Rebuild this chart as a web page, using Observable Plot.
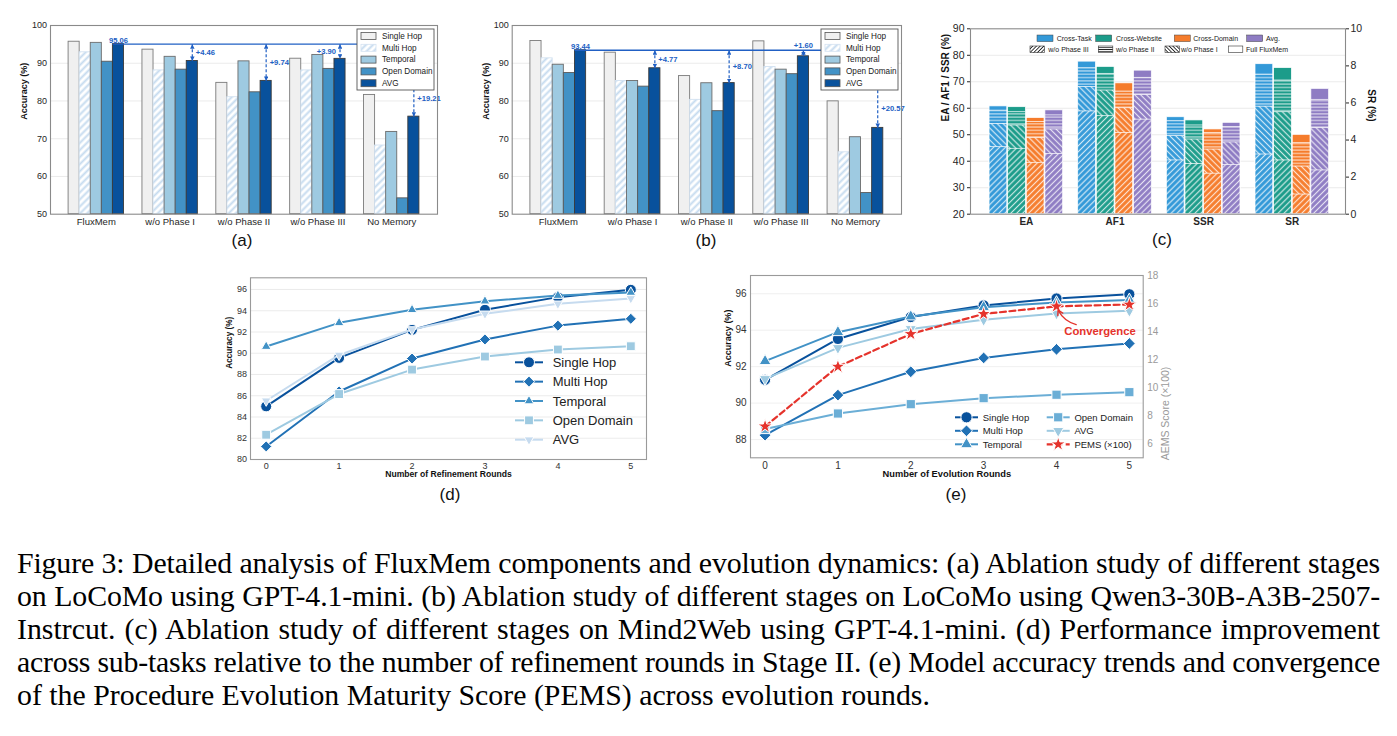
<!DOCTYPE html>
<html>
<head>
<meta charset="utf-8">
<script src="https://cdn.jsdelivr.net/npm/d3@7"></script>
<script src="https://cdn.jsdelivr.net/npm/@observablehq/plot@0.6"></script>
<style>
  html, body { margin: 0; padding: 0; background: #fff; }
  body { position: relative; width: 1397px; height: 736px; overflow: hidden; font-family: "Liberation Sans", Arial, sans-serif; }
  .panel { position: absolute; }
  .panel svg { display: block; overflow: visible; }
  .tag { position: absolute; width: 60px; margin-left: -30px; text-align: center; font-size: 17px; line-height: 20px; color: #111; }
  #caption { position: absolute; left: 17px; top: 545.5px; width: 1363px; font-family: "Liberation Serif", "Times New Roman", serif; font-size: 27px; line-height: 33px; color: #000; }
  #caption .ln { text-align: justify; text-align-last: justify; height: 33px; white-space: nowrap; }
  #caption .ln.last { text-align-last: left; }
</style>
</head>
<body>
<svg id="shared-defs" width="0" height="0" style="position:absolute;left:0;top:0"><defs></defs></svg>
<div class="panel" id="panel-a" style="left:0px;top:0px"></div>
<div class="panel" id="panel-b" style="left:460px;top:0px"></div>
<div class="panel" id="panel-c" style="left:930px;top:0px"></div>
<div class="panel" id="panel-d" style="left:210px;top:260px"></div>
<div class="panel" id="panel-e" style="left:700px;top:260px"></div>
<div class="tag" style="left:242px;top:230.5px">(a)</div>
<div class="tag" style="left:706px;top:230.5px">(b)</div>
<div class="tag" style="left:1162px;top:230px">(c)</div>
<div class="tag" style="left:450px;top:485px">(d)</div>
<div class="tag" style="left:956px;top:485px">(e)</div>
<div id="caption">
  <div class="ln">Figure 3: Detailed analysis of FluxMem components and evolution dynamics: (a) Ablation study of different stages</div>
  <div class="ln">on LoCoMo using GPT-4.1-mini. (b) Ablation study of different stages on LoCoMo using Qwen3-30B-A3B-2507-</div>
  <div class="ln">Instrcut. (c) Ablation study of different stages on Mind2Web using GPT-4.1-mini. (d) Performance improvement</div>
  <div class="ln">across sub-tasks relative to the number of refinement rounds in Stage II. (e) Model accuracy trends and convergence</div>
  <div class="ln last">of the Procedure Evolution Maturity Score (PEMS) across evolution rounds.</div>
</div>
<script>
// ---------------- data ----------------
// LoCoMo ablation (a: GPT-4.1-mini, b: Qwen3-30B-A3B-2507-Instruct)
const ablationGroups = ["FluxMem", "w/o Phase I", "w/o Phase II", "w/o Phase III", "No Memory"];
const locomoSeries = ["Single Hop", "Multi Hop", "Temporal", "Open Domain", "AVG"];

const gptSingleHop  = [95.7, 93.6, 84.8, 91.2, 81.6];
const gptMultiHop   = [92.9, 88.1, 81.0, 88.1, 68.2];
const gptTemporal   = [95.4, 91.7, 90.5, 92.2, 71.8];
const gptOpenDomain = [90.4, 88.3, 82.3, 88.5, 54.2];
const gptAvg        = [95.06, 90.60, 85.32, 91.16, 75.85];

const qwenSingleHop  = [95.9, 92.8, 86.6, 95.8, 79.9];
const qwenMultiHop   = [91.3, 85.3, 80.3, 89.0, 66.4];
const qwenTemporal   = [89.6, 85.3, 84.7, 88.3, 70.4];
const qwenOpenDomain = [87.4, 83.8, 77.3, 87.1, 55.6];
const qwenAvg        = [93.44, 88.67, 84.74, 91.84, 72.87];

// Mind2Web ablation (c): rows = EA, AF1, SSR, SR; columns = splits
const webMetrics = ["EA", "AF1", "SSR", "SR"];
const webSplits = ["Cross-Task", "Cross-Website", "Cross-Domain", "Avg."];
const webFull    = [[60.7, 60.4, 56.3, 59.2], [77.6, 75.6, 69.4, 74.2], [56.6, 55.4, 52.0, 54.5], [8.09, 7.88, 4.28, 6.76]];
const webNoPhase2 = [[59.1, 58.5, 54.8, 57.3], [75.1, 73.0, 66.3, 71.5], [55.1, 53.5, 50.7, 52.9], [7.53, 7.21, 3.83, 6.17]];
const webNoPhase1 = [[54.1, 53.5, 48.7, 52.0], [68.0, 66.7, 60.0, 65.0], [49.5, 48.2, 44.4, 47.1], [5.80, 5.50, 2.57, 4.64]];
const webNoPhase3 = [[45.3, 44.7, 39.4, 42.7], [58.8, 57.0, 50.7, 55.7], [40.3, 39.0, 35.3, 38.6], [3.22, 2.90, 1.06, 2.36]];

// Refinement rounds (d)
const refineRounds = [0, 1, 2, 3, 4, 5];
const refineSingleHop  = [85.0, 89.56, 92.2, 94.09, 95.28, 95.97];
const refineMultiHop   = [81.23, 86.4, 89.5, 91.3, 92.6, 93.24];
const refineTemporal   = [90.63, 92.86, 94.09, 94.9, 95.43, 95.72];
const refineOpenDomain = [82.33, 86.16, 88.46, 89.69, 90.35, 90.66];
const refineAvg        = [85.53, 89.84, 92.23, 93.71, 94.65, 95.16];

// Evolution rounds (e)
const evoRounds = [0, 1, 2, 3, 4, 5];
const evoSingleHop  = [91.28, 93.52, 94.72, 95.36, 95.74, 95.97];
const evoMultiHop   = [88.24, 90.44, 91.72, 92.48, 92.95, 93.27];
const evoTemporal   = [92.3, 93.89, 94.75, 95.26, 95.52, 95.66];
const evoOpenDomain = [88.58, 89.43, 89.94, 90.27, 90.46, 90.6];
const evoAvg        = [91.33, 93.03, 94.07, 94.57, 94.92, 95.07];
const evoPems       = [7.24, 11.5, 13.83, 15.26, 15.8, 15.93]; // PEMS x100

// ---------------- shared styling ----------------
const FONT = '"Liberation Sans", Arial, Helvetica, sans-serif';
const defs = d3.select("#shared-defs defs");
const intFormat = d3.format("d");

function stripePattern(id, {bg, line, width, spacing, angle}) {
  const p = defs.append("pattern").attr("id", id)
    .attr("patternUnits", "userSpaceOnUse")
    .attr("width", spacing).attr("height", spacing)
    .attr("patternTransform", `rotate(${angle})`);
  p.append("rect").attr("width", spacing).attr("height", spacing).attr("fill", bg);
  p.append("line").attr("x1", spacing / 2).attr("x2", spacing / 2)
    .attr("y1", -1).attr("y2", spacing + 1)
    .attr("stroke", line).attr("stroke-width", width);
}

// arrowhead for the gap annotations
const gapBlue = "#2160c4";
defs.append("marker").attr("id", "gap-head")
  .attr("viewBox", "0 0 10 10").attr("refX", 10).attr("refY", 5)
  .attr("markerUnits", "userSpaceOnUse")
  .attr("markerWidth", 4.5).attr("markerHeight", 4.5)
  .attr("orient", "auto-start-reverse")
  .append("path").attr("d", "M0,0L10,5L0,10z").attr("fill", gapBlue);

stripePattern("hatch-multi", {bg: "#ffffff", line: "#c6dbef", width: 2, spacing: 5, angle: 45});

// Mind2Web split colours and hatched variants
const webColors = ["#3399d8", "#1c9c8a", "#f57c2c", "#8e7cc3"];
const webVariantKeys = ["full", "horiz", "back", "fwd"];
webColors.forEach((c, si) => {
  stripePattern(`web-horiz-${si}`, {bg: c, line: "rgba(255,255,255,0.78)", width: 1, spacing: 3.3, angle: 90});
  stripePattern(`web-back-${si}`, {bg: c, line: "rgba(255,255,255,0.78)", width: 1.2, spacing: 4.2, angle: -45});
  stripePattern(`web-fwd-${si}`, {bg: c, line: "rgba(255,255,255,0.78)", width: 1.2, spacing: 4.2, angle: 45});
});
stripePattern("leg-fwd", {bg: "#fff", line: "#222", width: 0.9, spacing: 2.6, angle: 45});
stripePattern("leg-horiz", {bg: "#fff", line: "#222", width: 0.8, spacing: 2.2, angle: 90});
stripePattern("leg-back", {bg: "#fff", line: "#222", width: 0.9, spacing: 2.6, angle: -45});

const triangleDown = {
  draw(ctx, size) {
    const y = -Math.sqrt(size / (Math.sqrt(3) * 3));
    ctx.moveTo(0, -y * 2);
    ctx.lineTo(Math.sqrt(3) * y, y);
    ctx.lineTo(-Math.sqrt(3) * y, y);
    ctx.closePath();
  }
};

const barFills = ["#f0f0f0", "url(#hatch-multi)", "#9ecae1", "#4292c6", "#08519c"];
const barEdges = ["#7a7a7a", "#d3e2f1", "#6c6c6c", "#5a5a5a", "#3a3a3a"];

// ---------------- (a), (b) grouped bars ----------------
function ablationPanel(el, series, cfg) {
  const avg = series[4];
  const rows = [];
  ablationGroups.forEach((g, gi) => series.forEach((vals, si) => rows.push({gi, si, value: vals[gi]})));
  const bw = 0.15;
  const center = (gi, si) => gi + (si - 2) * bw;
  const best = avg[0];
  const gaps = avg.slice(1).map((v, k) => ({gi: k + 1, value: v, gap: best - v}));
  const ax = d => center(d.gi, 4);
  const labelY = d => d.gap > 15 ? d.value + d.gap * 0.25 : (d.value + best) / 2;
  const fmt = d => "+" + d.gap.toFixed(2);
  const side = s => gaps.filter(d => cfg.gapPlacement[d.gi] === s);
  const txt = {fill: gapBlue, fontWeight: "bold", fontSize: 7.6};

  const svg = Plot.plot({
    width: cfg.width, height: 240,
    marginLeft: cfg.marginLeft, marginRight: cfg.marginRight, marginTop: 25, marginBottom: 26.3,
    style: {fontFamily: FONT, fontSize: "9px", color: "#262626", background: "transparent"},
    x: {domain: [-0.62, 4.62]},
    y: {domain: [50, 100]},
    color: {type: "identity"},
    marks: [
      Plot.gridY({ticks: d3.range(60, 100, 10), stroke: "#e4e4e4", strokeOpacity: 1, strokeWidth: 0.8}),
      Plot.rect(rows, {
        x1: d => center(d.gi, d.si) - bw / 2, x2: d => center(d.gi, d.si) + bw / 2,
        y1: 50, y2: "value",
        fill: d => barFills[d.si], stroke: d => barEdges[d.si], strokeWidth: 0.9
      }),
      Plot.ruleY([best], {x1: center(0, 4) - bw / 2, x2: center(4, 4), stroke: gapBlue, strokeWidth: 1.3}),
      Plot.text([best], {x: center(0, 4), y: d => d, text: d => d.toFixed(2), lineAnchor: "bottom", dy: -1.5, ...txt}),
      Plot.link(gaps, {x1: ax, x2: ax, y1: best, y2: "value", stroke: gapBlue, strokeWidth: 1.2, strokeDasharray: "3,2"}),
      Plot.text(side("right"), {x: ax, y: labelY, text: fmt, dx: 3.5, textAnchor: "start", ...txt}),
      Plot.text(side("left"), {x: ax, y: labelY, text: fmt, dx: -4, textAnchor: "end", ...txt}),
      Plot.text(side("above"), {x: ax, y: best, text: fmt, dy: -2, lineAnchor: "bottom", textAnchor: "middle", ...txt}),
      Plot.frame({stroke: "#8a8a8a", strokeWidth: 1.1}),
      Plot.axisY({ticks: d3.range(50, 101, 10), tickSize: 0, tickPadding: 3.5, fontSize: 9, label: null}),
      Plot.axisX({ticks: [0, 1, 2, 3, 4], tickFormat: i => ablationGroups[i], tickSize: 0, tickPadding: 4, fontSize: 9.5, label: null}),
      Plot.text(["Accuracy (%)"], {frameAnchor: "left", dx: cfg.labelDx, rotate: -90, fontWeight: "bold", fontSize: 9, fill: "#111"})
    ]
  });
  d3.select(svg).selectAll('g[aria-label="link"] path')
    .attr("marker-start", "url(#gap-head)").attr("marker-end", "url(#gap-head)");

  // legend box in the upper right corner of the frame
  const boxW = 77, boxH = 61;
  const bx = cfg.width - cfg.marginRight - 3 - boxW, by = 25 + 4;
  const g = d3.select(svg).append("g").attr("transform", `translate(${bx},${by})`)
    .attr("font-family", FONT).attr("text-anchor", "start");
  g.append("rect").attr("width", boxW).attr("height", boxH)
    .attr("fill", "white").attr("stroke", "#555").attr("stroke-width", 0.9);
  locomoSeries.forEach((s, i) => {
    const yy = 7 + i * 11.8;
    g.append("rect").attr("x", 4).attr("y", yy - 3.5).attr("width", 15).attr("height", 7)
      .attr("fill", barFills[i]).attr("stroke", i === 1 ? "#d3e2f1" : "#555").attr("stroke-width", 0.8);
    g.append("text").attr("x", 25).attr("y", yy).attr("dy", "0.35em")
      .attr("font-size", 8.2).attr("fill", "#222").text(s);
  });
  el.appendChild(svg);
}

ablationPanel(document.getElementById("panel-a"),
  [gptSingleHop, gptMultiHop, gptTemporal, gptOpenDomain, gptAvg],
  {width: 460, marginLeft: 50, marginRight: 23, labelDx: -26,
   gapPlacement: {1: "right", 2: "right", 3: "left", 4: "right"}});

ablationPanel(document.getElementById("panel-b"),
  [qwenSingleHop, qwenMultiHop, qwenTemporal, qwenOpenDomain, qwenAvg],
  {width: 470, marginLeft: 51.7, marginRight: 29, labelDx: -25.7,
   gapPlacement: {1: "right", 2: "right", 3: "above", 4: "right"}});

// ---------------- (c) Mind2Web layered bars ----------------
(function () {
  const srToLeft = v => 20 + v * 7;          // SR (0-10) shares the 20-90 frame
  const leftToSr = v => (v - 20) / 7;
  const variants = [webFull, webNoPhase2, webNoPhase1, webNoPhase3];
  const rows = [];
  variants.forEach((tbl, vi) => tbl.forEach((vals, mi) => vals.forEach((v, si) => rows.push({vi, mi, si, value: v}))));
  const bw = 0.2, step = 0.21;
  const xc = d => d.mi + (d.si - 1.5) * step;
  const yv = d => webMetrics[d.mi] === "SR" ? srToLeft(d.value) : d.value;
  const fillOf = d => d.vi === 0 ? webColors[d.si] : `url(#web-${webVariantKeys[d.vi]}-${d.si})`;

  const W = 467, mL = 40, mR = 52;
  const svg = Plot.plot({
    width: W, height: 240, marginLeft: mL, marginRight: mR, marginTop: 28.3, marginBottom: 26.3,
    style: {fontFamily: FONT, fontSize: "10px", color: "#262626", background: "transparent"},
    x: {domain: [-0.63, 3.6]},
    y: {domain: [20, 90]},
    color: {type: "identity"},
    marks: [
      Plot.gridY({ticks: d3.range(30, 90, 10), stroke: "#e6e6e6", strokeOpacity: 1, strokeWidth: 0.8}),
      Plot.rect(rows, {x1: d => xc(d) - bw / 2, x2: d => xc(d) + bw / 2, y1: 20, y2: yv,
        fill: fillOf, stroke: "white", strokeWidth: 0.7}),
      Plot.frame({stroke: "#8a8a8a", strokeWidth: 1.1}),
      Plot.axisY({ticks: d3.range(20, 91, 10), tickSize: 3, tickPadding: 3, fontSize: 10.5, label: null}),
      Plot.axisY({anchor: "right", ticks: d3.range(0, 11, 2).map(srToLeft), tickFormat: v => Math.round(leftToSr(v)),
        tickSize: 3, tickPadding: 2, fontSize: 10.5, label: null}),
      Plot.axisX({ticks: [0, 1, 2, 3], tickFormat: i => webMetrics[i], tickSize: 0, tickPadding: 4,
        fontSize: 10, fontWeight: "bold", label: null}),
      Plot.text(["EA / AF1 / SSR (%)"], {frameAnchor: "left", dx: -25, rotate: -90, fontWeight: "bold", fontSize: 10, fill: "#111"}),
      Plot.text(["SR (%)"], {frameAnchor: "right", dx: 26, rotate: 90, fontWeight: "bold", fontSize: 10, fill: "#111"})
    ]
  });

  // two-row legend: split colours, then ablation hatches
  const g = d3.select(svg).append("g").attr("font-family", FONT).attr("text-anchor", "start");
  const colorRow = [[107, 126.7], [165.7, 186], [244.3, 263.3], [316.7, 336]];
  webSplits.forEach((s, i) => {
    const [px, tx] = colorRow[i];
    g.append("rect").attr("x", px).attr("y", 35).attr("width", 16).attr("height", 6.6)
      .attr("fill", webColors[i]).attr("stroke", "#444").attr("stroke-width", 0.5);
    g.append("text").attr("x", tx).attr("y", 38.3).attr("dy", "0.35em").attr("font-size", 7).attr("fill", "#222").text(s);
  });
  const hatchRow = [[100, 118.3, "url(#leg-fwd)", "w/o Phase III"], [168.3, 186, "url(#leg-horiz)", "w/o Phase II"],
                    [235, 251, "url(#leg-back)", "w/o Phase I"], [298.3, 316, "#ffffff", "Full FluxMem"]];
  hatchRow.forEach(([px, tx, f, s]) => {
    g.append("rect").attr("x", px).attr("y", 46).attr("width", 14.5).attr("height", 6.6)
      .attr("fill", f).attr("stroke", "#333").attr("stroke-width", 0.6);
    g.append("text").attr("x", tx).attr("y", 49.3).attr("dy", "0.35em").attr("font-size", 7).attr("fill", "#222").text(s);
  });
  document.getElementById("panel-c").appendChild(svg);
})();

// ---------------- line-chart helpers ----------------
function seriesRows(rounds, values) {
  return rounds.map((r, i) => ({round: r, value: values[i]}));
}
function lineMarks(s, yMap = v => v) {
  const data = seriesRows(s.rounds, s.values);
  return [
    Plot.line(data, {x: "round", y: d => yMap(d.value), stroke: s.color, strokeWidth: s.width || 2,
      strokeDasharray: s.dash || null}),
    Plot.dot(data, {x: "round", y: d => yMap(d.value), symbol: s.symbol, r: s.r, fill: s.color,
      stroke: "white", strokeWidth: 1})
  ];
}
function lineLegend(svg, entries, {x, y, rows, colWidth, rowHeight, lineLen, textGap, fontSize}) {
  const g = d3.select(svg).append("g").attr("transform", `translate(${x},${y})`)
    .attr("font-family", FONT).attr("text-anchor", "start");
  entries.forEach((e, i) => {
    const col = Math.floor(i / rows), row = i % rows;
    const item = g.append("g").attr("transform", `translate(${col * colWidth},${row * rowHeight})`);
    item.append("line").attr("x1", 0).attr("x2", lineLen).attr("stroke", e.color)
      .attr("stroke-width", e.width || 2).attr("stroke-dasharray", e.dash || null);
    item.append("path").attr("transform", `translate(${lineLen / 2},0)`)
      .attr("d", d3.symbol(e.symbol, Math.PI * e.r * e.r)())
      .attr("fill", e.color).attr("stroke", "white").attr("stroke-width", 1);
    item.append("text").attr("x", lineLen + textGap).attr("dy", "0.35em")
      .attr("font-size", fontSize).attr("fill", "#222").text(e.name);
  });
}

// ---------------- (d) refinement rounds ----------------
(function () {
  const series = [
    {name: "Single Hop", values: refineSingleHop, color: "#08519c", symbol: d3.symbolCircle, r: 5.5},
    {name: "Multi Hop", values: refineMultiHop, color: "#2171b5", symbol: d3.symbolDiamond2, r: 5},
    {name: "Temporal", values: refineTemporal, color: "#4292c6", symbol: d3.symbolTriangle, r: 3.6},
    {name: "Open Domain", values: refineOpenDomain, color: "#9ecae1", symbol: d3.symbolSquare, r: 5},
    {name: "AVG", values: refineAvg, color: "#c6dbef", symbol: triangleDown, r: 3.6}
  ].map(s => ({...s, rounds: refineRounds}));

  const svg = Plot.plot({
    width: 470, height: 230, marginLeft: 40, marginRight: 34, marginTop: 17.3, marginBottom: 31,
    style: {fontFamily: FONT, fontSize: "9px", color: "#333", background: "transparent"},
    x: {domain: [-0.215, 5.215]},
    y: {domain: [80, 97.1]},
    marks: [
      Plot.gridY({ticks: d3.range(82, 97, 2), stroke: "#e6e6e6", strokeOpacity: 1, strokeWidth: 0.8}),
      ...series.flatMap(s => lineMarks(s)),
      Plot.frame({stroke: "#9a9a9a", strokeWidth: 1.1}),
      Plot.axisY({ticks: d3.range(80, 97, 2), tickSize: 0, tickPadding: 3.5, fontSize: 9, label: null}),
      Plot.axisX({ticks: refineRounds, tickFormat: intFormat, tickSize: 0, tickPadding: 3.5, fontSize: 9, label: null}),
      Plot.text(["Accuracy (%)"], {frameAnchor: "left", dx: -21, rotate: -90, fontWeight: "bold", fontSize: 8.2, fill: "#111"}),
      Plot.text(["Number of Refinement Rounds"], {frameAnchor: "bottom", dy: 17.7, fontWeight: "bold", fontSize: 8.6, fill: "#111"})
    ]
  });
  lineLegend(svg, series, {x: 305, y: 102.3, rows: 5, colWidth: 0, rowHeight: 19.35, lineLen: 28, textGap: 9.7, fontSize: 13});
  document.getElementById("panel-d").appendChild(svg);
})();

// ---------------- (e) evolution rounds + PEMS ----------------
(function () {
  const leftDomain = [87, 97], rightDomain = [5, 18];
  const k = (leftDomain[1] - leftDomain[0]) / (rightDomain[1] - rightDomain[0]);
  const toLeft = v => leftDomain[0] + (v - rightDomain[0]) * k;
  const fromLeft = v => rightDomain[0] + (v - leftDomain[0]) / k;
  const red = "#e5332c";

  const series = [
    {name: "Single Hop", values: evoSingleHop, color: "#08519c", symbol: d3.symbolCircle, r: 5.6},
    {name: "Multi Hop", values: evoMultiHop, color: "#2171b5", symbol: d3.symbolDiamond2, r: 5.3},
    {name: "Temporal", values: evoTemporal, color: "#4292c6", symbol: d3.symbolTriangle, r: 4.4},
    {name: "Open Domain", values: evoOpenDomain, color: "#6baed6", symbol: d3.symbolSquare, r: 5.2},
    {name: "AVG", values: evoAvg, color: "#9ecae1", symbol: triangleDown, r: 4.2}
  ].map(s => ({...s, rounds: evoRounds}));
  const pems = {name: "PEMS (×100)", values: evoPems, rounds: evoRounds, color: red, symbol: d3.symbolStar,
    r: 4.6, dash: "6,3.5", width: 2.2};
  const conv = [{round: evoRounds[4], value: toLeft(evoPems[4])}];

  const svg = Plot.plot({
    width: 480, height: 230, marginLeft: 50, marginRight: 37.3, marginTop: 15, marginBottom: 32.7,
    style: {fontFamily: FONT, fontSize: "10px", color: "#333", background: "transparent"},
    x: {domain: [-0.2, 5.19]},
    y: {domain: leftDomain},
    marks: [
      Plot.gridY({ticks: d3.range(88, 97, 2), stroke: "#ececec", strokeOpacity: 1, strokeWidth: 0.8}),
      ...series.flatMap(s => lineMarks(s)),
      ...lineMarks(pems, toLeft),
      Plot.arrow(conv, {x1: d => d.round + 0.27, y1: d => d.value - 1.0, x2: "round", y2: "value",
        bend: 28, stroke: red, strokeWidth: 1.4, headLength: 6, insetEnd: 4}),
      Plot.text(conv, {x: "round", y: "value", dx: 43.5, dy: 25.2, text: () => "Convergence",
        fill: red, fontWeight: "bold", fontSize: 11.3}),
      Plot.frame({stroke: "#9a9a9a", strokeWidth: 1.1}),
      Plot.axisY({ticks: d3.range(88, 97, 2), tickSize: 0, tickPadding: 4, fontSize: 10, label: null}),
      Plot.axisY({anchor: "right", ticks: d3.range(6, 19, 2).map(toLeft), tickFormat: v => Math.round(fromLeft(v)),
        tickSize: 0, tickPadding: 4, fontSize: 10, fill: "#9a9a9a", label: null}),
      Plot.axisX({ticks: evoRounds, tickFormat: intFormat, tickSize: 0, tickPadding: 4, fontSize: 10, label: null}),
      Plot.text(["Accuracy (%)"], {frameAnchor: "left", dx: -22, rotate: -90, fontWeight: "bold", fontSize: 9, fill: "#111"}),
      Plot.text(["AEMS Score (×100)"], {frameAnchor: "right", dx: 22.3, rotate: -90, fontSize: 10.5, fill: "#9a9a9a"}),
      Plot.text(["Number of Evolution Rounds"], {frameAnchor: "bottom", dy: 19.4, fontWeight: "bold", fontSize: 9.3, fill: "#111"})
    ]
  });
  lineLegend(svg, [...series, pems], {x: 255, y: 157.3, rows: 3, colWidth: 91.7, rowHeight: 13.5,
    lineLen: 23, textGap: 4.7, fontSize: 9.5});
  document.getElementById("panel-e").appendChild(svg);
})();

// ---------------- caption sizing ----------------
// The closing line sets the type size; full lines are justified to the column
// width and tightened slightly if they would overflow it.
(function () {
  const cap = document.getElementById("caption");
  const lines = [...cap.querySelectorAll(".ln")];
  const ctx = document.createElement("canvas").getContext("2d");
  const family = '"Liberation Serif", "Times New Roman", serif';
  const measure = (t, size) => { ctx.font = `${size}px ${family}`; return ctx.measureText(t).width; };
  const colW = 1363, lastW = 913;
  const last = lines[lines.length - 1];
  const size = 100 * lastW / measure(last.textContent.trim(), 100);
  cap.style.fontSize = size + "px";
  lines.slice(0, -1).forEach(el => {
    const t = el.textContent.trim();
    const w = measure(t, size);
    if (w > colW - 2) el.style.letterSpacing = ((colW - 2 - w) / t.length) + "px";
  });
})();
</script>
</body>
</html>
